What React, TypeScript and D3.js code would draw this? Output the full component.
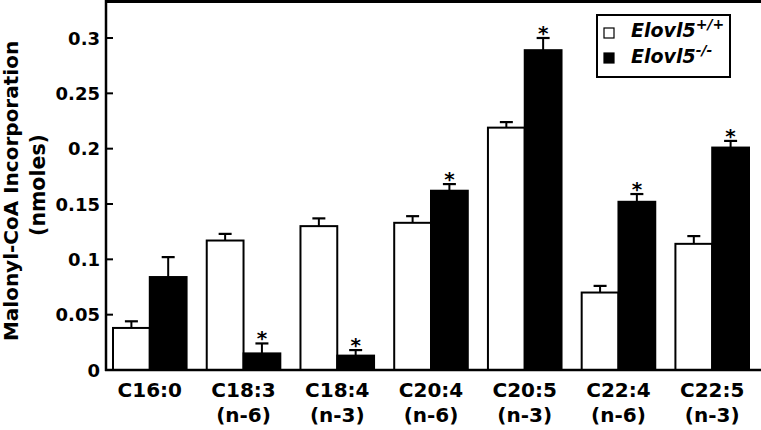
import React from 'react';
import * as d3 from 'd3';

const categories = ['C16:0', 'C18:3', 'C18:4', 'C20:4', 'C20:5', 'C22:4', 'C22:5'];
const subLabels = ['', '(n-6)', '(n-3)', '(n-6)', '(n-3)', '(n-6)', '(n-3)'];
const wtValues = [0.038, 0.117, 0.130, 0.133, 0.219, 0.070, 0.114];
const wtErrors = [0.006, 0.006, 0.007, 0.006, 0.005, 0.006, 0.007];
const koValues = [0.084, 0.015, 0.013, 0.162, 0.289, 0.152, 0.201];
const koErrors = [0.018, 0.009, 0.005, 0.006, 0.011, 0.007, 0.006];
const significant = [false, true, true, true, true, true, true];
const yTicks = [0, 0.05, 0.1, 0.15, 0.2, 0.25, 0.3];
const yTickLabels = ['0', '0.05', '0.1', '0.15', '0.2', '0.25', '0.3'];

const W = 761, H = 430;
const FONT = '"DejaVu Sans", Verdana, sans-serif';

export default function App() {
  const left = 106, bottom = 370, top = 1.5;
  const y = d3.scaleLinear().domain([0, 0.3]).range([bottom, 38]);
  const x = d3.scaleBand<string>().domain(categories).range([113, 749]).paddingInner(0.215).paddingOuter(0);
  const sub = d3.scaleBand<string>().domain(['wt', 'ko']).range([0, x.bandwidth()]);
  const capW = 13;

  const series = [
    { key: 'wt', values: wtValues, errors: wtErrors, fill: '#fff' },
    { key: 'ko', values: koValues, errors: koErrors, fill: '#000' },
  ];

  return (
    <svg width={W} height={H} style={{ position: 'absolute', left: 0, top: 0, background: '#fff' }} fontFamily={FONT}>
      {/* Bars + error bars */}
      {series.map(s => categories.map((c, i) => {
        const bx = x(c)! + sub(s.key)!;
        const bw = sub.bandwidth();
        const cx = bx + bw / 2;
        const yTop = y(s.values[i]);
        const yErr = y(s.values[i] + s.errors[i]);
        return (
          <g key={s.key + c}>
            <line x1={cx} x2={cx} y1={yTop} y2={yErr} stroke="#000" strokeWidth={2} />
            <line x1={cx - capW / 2} x2={cx + capW / 2} y1={yErr} y2={yErr} stroke="#000" strokeWidth={2.2} />
            <rect x={bx} y={yTop} width={bw} height={bottom - yTop} fill={s.fill} stroke="#000" strokeWidth={2} />
            {s.key === 'ko' && significant[i] && (
              <text x={cx} y={yErr + 2} textAnchor="middle" fontSize={20} fontWeight="bold">*</text>
            )}
          </g>
        );
      }))}

      {/* Frame */}
      <line x1={left} x2={W} y1={top} y2={top} stroke="#000" strokeWidth={3} />
      <line x1={left} x2={left} y1={0} y2={bottom + 1} stroke="#000" strokeWidth={2.5} />
      <line x1={left - 1} x2={W} y1={bottom} y2={bottom} stroke="#000" strokeWidth={2.5} />

      {/* Y ticks */}
      {yTicks.map((t, i) => (
        <g key={t}>
          <line x1={left} x2={left + 7} y1={y(t)} y2={y(t)} stroke="#000" strokeWidth={2} />
          <text x={100} y={y(t) + 6.5} textAnchor="end" fontSize={18} fontWeight="bold">{yTickLabels[i]}</text>
        </g>
      ))}

      {/* Y title */}
      <text transform="translate(18,191) rotate(-90)" textAnchor="middle" fontSize={20} fontWeight="bold">Malonyl-CoA Incorporation</text>
      <text transform="translate(45,185) rotate(-90)" textAnchor="middle" fontSize={20.5} fontWeight="bold">(nmoles)</text>

      {/* Category labels */}
      {categories.map((c, i) => {
        const cx = x(c)! + x.bandwidth() / 2;
        return (
          <g key={c} fontSize={20} fontWeight="bold" textAnchor="middle">
            <text x={cx} y={397}>{c}</text>
            {subLabels[i] && <text x={cx} y={422}>{subLabels[i]}</text>}
          </g>
        );
      })}

      {/* Legend */}
      <g>
        <rect x={597} y={15} width={133} height={62} fill="#fff" stroke="#000" strokeWidth={2} />
        <rect x={604} y={28} width={10} height={10} fill="#fff" stroke="#000" strokeWidth={1.2} />
        <text x={631} y={37} fontSize={19} fontWeight="bold" fontStyle="italic">
          Elovl5<tspan dy={-8} fontSize={14}>+/+</tspan>
        </text>
        <rect x={604} y={53} width={10} height={10} fill="#000" stroke="#000" strokeWidth={1.2} />
        <text x={631} y={63} fontSize={19} fontWeight="bold" fontStyle="italic">
          Elovl5<tspan dy={-8} fontSize={14}>-/-</tspan>
        </text>
      </g>
    </svg>
  );
}
